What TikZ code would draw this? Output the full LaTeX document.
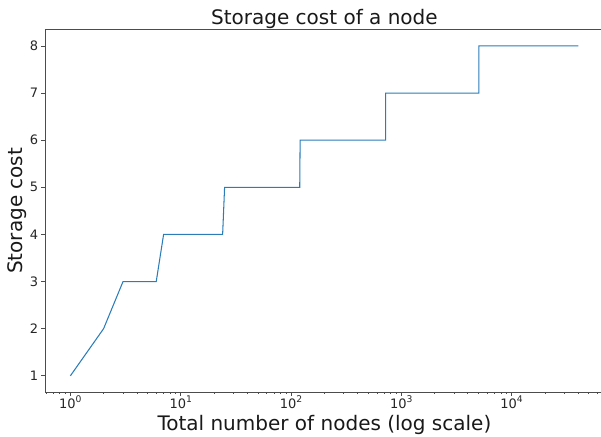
\documentclass[tikz,border=0pt]{standalone}
\usepackage{fontspec}
\setmainfont{DejaVu Sans}
\usepackage{tikz}
\usetikzlibrary{positioning}
\usepackage{xcolor}
\definecolor{sccurvecol}{HTML}{2A7DB8}
\definecolor{scspinecol}{gray}{0.3}
\tikzset{
  scspine/.style  = {draw=scspinecol, line width=0.8pt},
  sctick/.style   = {draw=scspinecol, line width=0.8pt},
  scminor/.style  = {draw=scspinecol, line width=0.5pt},
  sctklbl/.style  = {font=\fontsize{13}{15}\selectfont, inner sep=0pt,
                     text=black!85},
  scaxlbl/.style  = {font=\fontsize{20}{24}\selectfont, inner sep=0pt,
                     text=black!90},
  sccurve/.style  = {draw=sccurvecol, line width=1.05pt, line join=miter}
}
\newcommand{\scexp}[1]{10\raisebox{5.4pt}{\fontsize{9.2}{9}\selectfont #1}}

\begin{document}
\begin{tikzpicture}[x=1pt, y=1pt]
  \useasboundingbox (0,0) rectangle (601,436);

  % plot area: x = log10(n), y = cost
  \begin{scope}[shift={(70.4pt,13.08pt)}, x=110.3pt, y=47.12pt]
    \draw[scspine] (-0.2303,8.35) -- (-0.2303,0.65) -- (4.8359,0.65);
    \draw[scspine] (-0.2303,8.35) -- (4.8359,8.35);

    % y ticks
    \foreach \c in {1,...,8}
      \draw[sctick] (-0.2303,\c) -- ++(-4pt,0)
        node[sctklbl, anchor=east, xshift=-2.5pt] (yt\c) {\c};

    % x ticks, decades
    \foreach \d in {0,...,4} {
      \draw[sctick] (\d,0.65) -- ++(0,-4pt);
      \node[sctklbl, anchor=base] (xt\d) at ([yshift=-15.9pt]\d,0.65)
        {\scexp{\d}};
    }

    % minor ticks
    \foreach \d in {-1,...,4}
      \foreach \k in {2,...,9} {
        \pgfmathsetmacro\lx{\d+log10(\k)}
        \ifdim\lx pt>-0.2303pt \ifdim\lx pt<4.82pt
          \draw[scminor] (\lx,0.65) -- ++(0,-2.2pt);
        \fi\fi
      }

    % cost curve (steps at n!)
    \draw[sccurve] (0,1) -- ({log10(2)},2) -- ({log10(3)},3)
      -- ({log10(6)},3) -- ({log10(7)},4) -- ({log10(24)},4)
      -- ({log10(25)},5) -- ({log10(120)},5) -- ({log10(121)},6)
      -- ({log10(720)},6) -- ({log10(721)},7) -- ({3+log10(5.04)},7)
      -- ({3+log10(5.041)},8) -- ({4+log10(4.032)},8);
  \end{scope}

  \node[scaxlbl, anchor=base] (title) at (324.4,411.7)
        {Storage cost of a node};
  \node[scaxlbl, anchor=base] (xlabel) at (324.4,6)
        {Total number of nodes (log scale)};
  \node[scaxlbl, anchor=base, rotate=90] (ylabel) at (22.7,225.2)
        {Storage cost};
\end{tikzpicture}
\end{document}
